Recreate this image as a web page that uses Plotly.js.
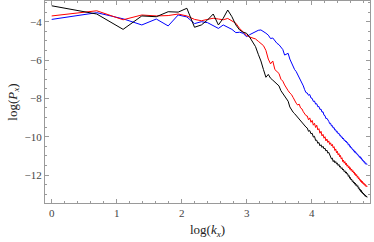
<!DOCTYPE html>
<html>
<head>
<meta charset="utf-8">
<script src="https://cdn.plot.ly/plotly-3.0.1.min.js"></script>
<style>html,body{margin:0;padding:0;background:#fff;}#chart{width:374px;height:242px;}</style>
</head>
<body>
<div id="chart"></div>
<script>
// wavenumbers k (x axis shows ln k)
const kValues = [1,2,3,4,5,6,7,8,9,10,11,12,13,14,15,16,17,18,19,20,21,22,23,24,25,26,27,28,29,30,31,32,33,34,35,36,37,38,39,40,41,42,43,44,45,46,47,48,49,50,51,52,53,54,55,56,57,58,59,60,61,62,63,64,65,66,67,68,69,70,71,72,73,74,75,76,77,78,79,80,81,82,83,84,85,86,87,88,89,90,91,92,93,94,95,96,97,98,99,100,101,102,103,104,105,106,107,108,109,110,111,112,113,114,115,116,117,118,119,120,121,122,123,124,125,126,127,128];

const blackLogP = [-3.17,-3.6,-4.4,-3.7,-3.74,-3.48,-3.5,-3.3,-4.29,-4.17,-3.91,-3.6,-4.17,-3.82,-3.39,-3.74,-4.17,-4.43,-4.55,-4.6,-4.8,-5.05,-5.3,-5.7,-6.05,-6.5,-6.9,-6.75,-6.95,-7.05,-7.15,-7.25,-7.35,-7.6,-7.75,-7.85,-8.05,-8.15,-8.45,-8.6,-8.72,-8.8,-8.9,-8.98,-9.08,-9.15,-9.25,-9.35,-9.45,-9.5,
-9.55,-9.72,-9.68,-9.85,-9.82,-10.02,-9.98,-10.2,-10.18,-10.35,-10.3,-10.48,-10.42,-10.56,-10.5,-10.64,-10.6,-10.75,-10.7,-10.86,-10.82,-10.98,-11.0,-11.16,-11.12,-11.3,-11.24,-11.36,-11.3,-11.42,-11.38,-11.5,-11.45,-11.58,-11.55,-11.66,-11.62,-11.74,-11.7,-11.82,-11.78,-11.9,-11.84,-11.96,-11.93,-12.07,-12.03,-12.17,-12.13,-12.26,-12.22,-12.34,-12.3,-12.42,-12.37,-12.48,-12.43,-12.55,-12.5,-12.6,-12.56,-12.7,-12.66,-12.79,-12.74,-12.86,-12.8,-12.92,-12.88,-12.98,-12.94,-13.04,-13.0,-13.1,-13.05,-13.14,-13.1,-13.17];

const redLogP = [-3.7,-3.43,-3.9,-3.65,-3.7,-3.68,-3.6,-3.7,-3.88,-3.95,-3.88,-3.82,-3.86,-3.9,-3.83,-3.96,-4.08,-4.35,-4.55,-4.7,-4.8,-4.85,-4.9,-5.02,-5.15,-5.25,-5.5,-5.95,-6.2,-6.05,-6.5,-6.6,-6.7,-7.0,-7.1,-7.3,-7.42,-7.6,-7.72,-7.8,-7.95,-8.15,-8.25,-8.35,-8.3,-8.5,-8.55,-8.7,-8.8,-8.9,
-8.92,-9.12,-9.02,-9.25,-9.15,-9.4,-9.3,-9.52,-9.4,-9.65,-9.58,-9.82,-9.72,-9.96,-9.88,-10.08,-10.0,-10.22,-10.12,-10.3,-10.22,-10.4,-10.32,-10.48,-10.4,-10.58,-10.52,-10.72,-10.64,-10.84,-10.76,-10.95,-10.88,-11.05,-10.98,-11.16,-11.1,-11.3,-11.22,-11.38,-11.3,-11.46,-11.38,-11.54,-11.47,-11.62,-11.55,-11.7,-11.62,-11.76,-11.69,-11.84,-11.77,-11.9,-11.84,-11.98,-11.92,-12.05,-11.98,-12.12,-12.06,-12.2,-12.14,-12.27,-12.22,-12.34,-12.28,-12.4,-12.33,-12.45,-12.4,-12.5,-12.45,-12.55,-12.5,-12.6,-12.56,-12.62];

const blueLogP = [-3.88,-3.53,-3.85,-4.17,-3.86,-4.22,-3.65,-3.75,-4.1,-4.0,-4.05,-4.22,-4.35,-4.17,-4.3,-4.4,-4.57,-4.55,-4.6,-4.78,-4.68,-4.6,-4.52,-4.45,-4.43,-4.5,-4.6,-4.7,-4.88,-4.85,-5.0,-5.13,-5.2,-5.35,-5.45,-5.74,-5.68,-5.65,-5.95,-6.15,-6.3,-6.5,-6.6,-6.75,-6.9,-7.0,-7.2,-7.35,-7.55,-7.7,
-7.72,-7.84,-7.8,-7.98,-8.0,-8.16,-8.14,-8.3,-8.28,-8.44,-8.42,-8.58,-8.56,-8.72,-8.7,-8.88,-8.9,-9.06,-9.04,-9.18,-9.2,-9.32,-9.3,-9.44,-9.42,-9.55,-9.52,-9.66,-9.64,-9.76,-9.73,-9.85,-9.82,-9.94,-9.92,-10.03,-10.0,-10.12,-10.08,-10.2,-10.17,-10.27,-10.23,-10.34,-10.31,-10.44,-10.4,-10.52,-10.49,-10.6,-10.57,-10.67,-10.65,-10.75,-10.72,-10.82,-10.78,-10.88,-10.85,-10.94,-10.92,-11.01,-10.99,-11.08,-11.04,-11.13,-11.1,-11.2,-11.18,-11.27,-11.25,-11.33,-11.3,-11.39,-11.36,-11.44,-11.41,-11.46];

const xTickVals = [0,1,2,3,4];
const xTickText = ["0","1","2","3","4"];
const yTickVals = [-4,-6,-8,-10,-12];
const yTickText = ["\u22124","\u22126","\u22128","\u221210","\u221212"];

const lnK = kValues.map(k => Math.log(k));

function series(y, color) {
  return {x: lnK, y: y, type: 'scatter', mode: 'lines',
          line: {color: color, width: 1}, hoverinfo: 'skip', showlegend: false};
}

const frameColor = '#9a9a9a';
const tickFont = {family: 'Liberation Serif, Times New Roman, serif', size: 11, color: '#444'};

const axisCommon = {
  showgrid: false, zeroline: false, showline: true, linecolor: frameColor, linewidth: 1,
  mirror: 'allticks', ticks: 'inside', ticklen: 4, tickwidth: 1, tickcolor: frameColor,
  tickfont: tickFont
};

const layout = {
  width: 374, height: 242,
  margin: {l: 45, r: 4, t: 1, b: 39},
  paper_bgcolor: '#fff', plot_bgcolor: '#fff',
  xaxis: Object.assign({}, axisCommon, {
    range: [-0.103, 4.897], tickmode: 'array', tickvals: xTickVals, ticktext: xTickText,
    minor: {dtick: 0.2, tick0: 0, ticks: 'inside', ticklen: 2, tickcolor: frameColor, tickwidth: 1},
    title: {text: 'log(<i>k</i><sub><i>x</i></sub>)', standoff: 6,
            font: {family: 'Liberation Serif, Times New Roman, serif', size: 13, color: '#222'}}
  }),
  yaxis: Object.assign({}, axisCommon, {
    range: [-13.46, -2.92], tickmode: 'array', tickvals: yTickVals, ticktext: yTickText,
    minor: {dtick: 0.5, tick0: 0, ticks: 'inside', ticklen: 2, tickcolor: frameColor, tickwidth: 1},
    title: {text: 'log(<i>P</i><sub><i>x</i></sub>)', standoff: 4,
            font: {family: 'Liberation Serif, Times New Roman, serif', size: 13, color: '#222'}}
  })
};

Plotly.newPlot('chart', [series(blueLogP, '#0000ff'), series(redLogP, '#ff0000'), series(blackLogP, '#000000')], layout, {staticPlot: true, displayModeBar: false});
</script>
</body>
</html>
